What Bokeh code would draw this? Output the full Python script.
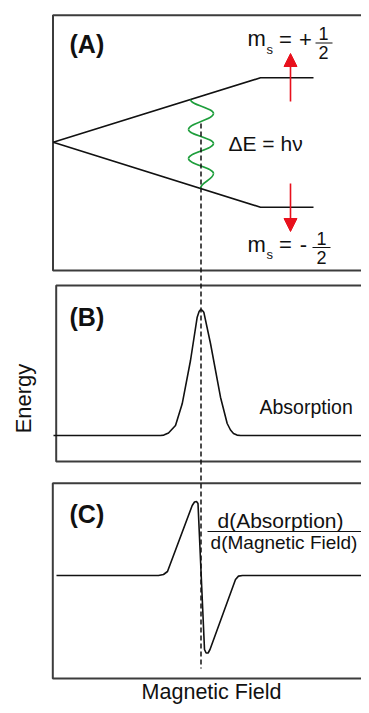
from bokeh.plotting import figure
from bokeh.models import Range1d, Arrow, NormalHead
from bokeh.core.properties import value
from bokeh.embed import file_html
from bokeh.resources import INLINE

FONT = value("Liberation Sans")

# ---- panel frames (open on the right) ----
frame_xs = [[369, 52.5, 52.5, 369], [369, 55.7, 55.7, 369], [369, 52.3, 52.3, 369]]
frame_ys = [[14.7, 14.7, 270, 270], [285, 285, 461, 461], [482.7, 482.7, 678, 678]]

# ---- panel A: Zeeman splitting ----
upper_x = [52.7, 260, 313]
upper_y = [141.7, 77.3, 77.3]
lower_x = [52.7, 260, 313]
lower_y = [141.7, 206.7, 206.7]
# photon wave: turning points (x, y)
wave_x = [190, 213, 188, 213, 188, 213, 200]
wave_y = [99, 113, 129, 143, 158, 173, 188]

# ---- panel B: absorption line ----
abs_x = [53, 160, 163.3, 168, 175, 181.7, 190, 196.7, 198.6, 200, 201.7, 203.3,
         210, 220, 226.7, 230, 233, 236.5, 240, 369]
abs_y = [435, 435, 434.6, 432.5, 425, 403.3, 360, 316.7, 311, 309.3, 309.8, 311.7,
         343, 396.7, 423, 429.5, 433, 434.6, 435, 435]

# ---- panel C: first derivative ----
der_x = [56, 158, 163, 167, 191.7, 194, 196, 197.5, 204, 205.6, 207.6, 209.5,
         235, 238, 242, 369]
der_y = [575, 575, 574, 571, 505, 501.5, 501, 503, 649, 652.5, 652.5, 649,
         579, 575.6, 575, 575]

# resonance field marker
res_x = [200.5, 200.5]
res_y = [123, 668]

p = figure(width=361, height=705, output_backend="svg", toolbar_location=None,
           x_range=Range1d(0, 361), y_range=Range1d(705, 0), min_border=0,
           background_fill_color="white", border_fill_color="white")
p.axis.visible = False
p.grid.visible = False
p.outline_line_color = None

FRAME = "#3c3c3c"
p.multi_line(frame_xs, frame_ys, line_color=FRAME, line_width=2)

# energy levels
p.line(upper_x, upper_y, line_color="#111111", line_width=1.6)
p.line(lower_x, lower_y, line_color="#111111", line_width=1.6)

# wave as bezier half-waves with vertical tangents at the turning points
x0, y0, x1, y1, cx0, cy0, cx1, cy1 = [], [], [], [], [], [], [], []
for i in range(len(wave_x) - 1):
    ax, ay, bx, by = wave_x[i], wave_y[i], wave_x[i + 1], wave_y[i + 1]
    d = by - ay
    x0.append(ax); y0.append(ay); x1.append(bx); y1.append(by)
    cx0.append(ax); cy0.append(ay + 0.4 * d)
    cx1.append(bx); cy1.append(by - 0.4 * d)
p.bezier(x0=x0, y0=y0, x1=x1, y1=y1, cx0=cx0, cy0=cy0, cx1=cx1, cy1=cy1,
         line_color="#1e9e3c", line_width=1.6)

# dashed resonance line
p.line(res_x, res_y, line_color="#111111", line_width=1.5, line_dash="5 3")

# spectra
p.line(abs_x, abs_y, line_color="#111111", line_width=1.6)
p.line(der_x, der_y, line_color="#111111", line_width=1.6)

# red spin arrows
RED = "#e8101c"
p.add_layout(Arrow(end=NormalHead(size=13, fill_color=RED, line_color=RED),
                   x_start=290, y_start=101, x_end=290, y_end=53,
                   line_color=RED, line_width=1.6))
p.add_layout(Arrow(end=NormalHead(size=13, fill_color=RED, line_color=RED),
                   x_start=290, y_start=183, x_end=290, y_end=231,
                   line_color=RED, line_width=1.6))

def txt(x, y, s, size, align="left", style="normal", angle=0):
    p.text(x=[x], y=[y], text=[s], text_font=FONT, text_font_size=f"{size}px",
           text_align=align, text_baseline="middle", text_font_style=style,
           text_color="#111111", angle=angle)

# panel letters
txt(69, 43.3, "(A)", 25, style="bold")
txt(69, 316.7, "(B)", 25, style="bold")
txt(69, 513, "(C)", 25, style="bold")

# spin state labels
txt(247, 38, "m", 22)
txt(266, 49, "s", 13)
txt(285, 39, "=", 22, align="center")
txt(305, 39, "+", 22, align="center")
txt(323, 33, "1", 18, align="center")
txt(323, 52, "2", 18, align="center")
p.line([315, 332], [42.5, 42.5], line_color="#111111", line_width=1.2)

txt(247, 243.5, "m", 22)
txt(266, 254, "s", 13)
txt(285, 244, "=", 22, align="center")
txt(303, 244, "-", 22, align="center")
txt(321, 238, "1", 18, align="center")
txt(321, 257, "2", 18, align="center")
p.line([312, 330], [247, 247], line_color="#111111", line_width=1.2)

txt(228, 143, "\u0394E = h\u03bd", 21)

txt(259, 406.7, "Absorption", 19.5)
txt(280, 520, "d(Absorption)", 21, align="center")
txt(283.5, 541.7, "d(Magnetic Field)", 19, align="center")
p.line([207, 361], [531, 531], line_color="#111111", line_width=1.2)

txt(211, 691, "Magnetic Field", 21.5, align="center")
txt(23, 398, "Energy", 22, align="center", angle=1.5708)

open("out.html", "w").write(file_html(p, INLINE))
